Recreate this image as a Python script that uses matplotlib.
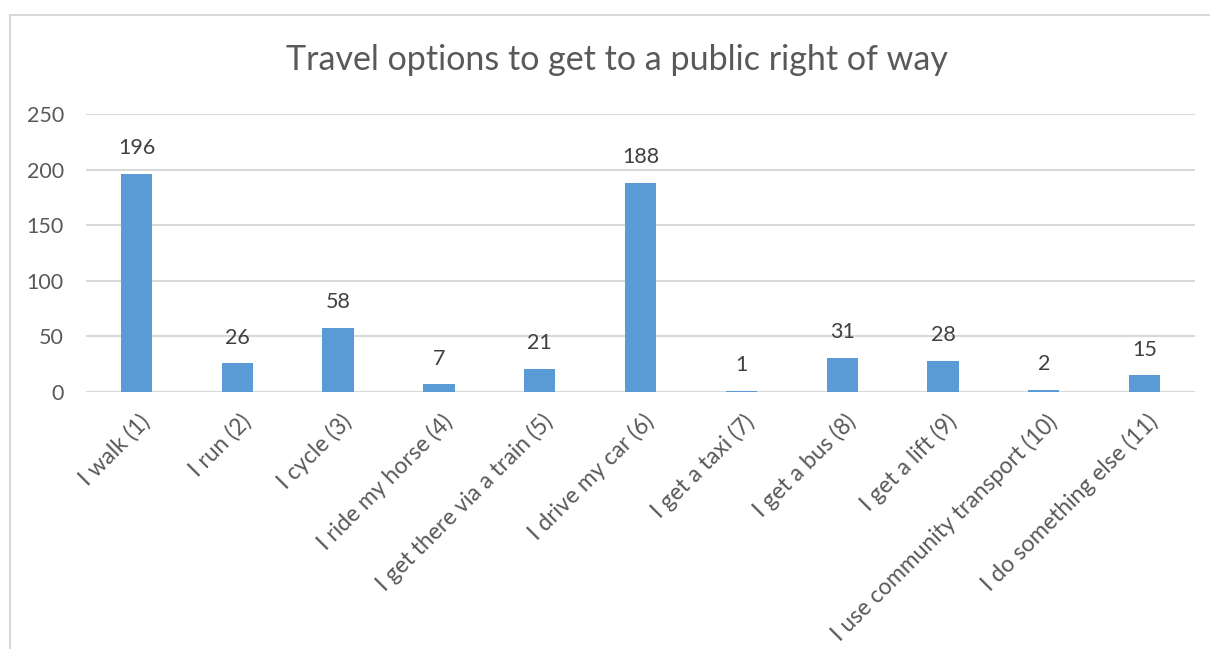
import matplotlib.pyplot as plt
from matplotlib.patches import Rectangle
from matplotlib.transforms import ScaledTranslation

# survey answers and counts
options = ["I walk (1)", "I run (2)", "I cycle (3)", "I ride my horse (4)",
           "I get there via a train (5)", "I drive my car (6)", "I get a taxi (7)",
           "I get a bus (8)", "I get a lift (9)", "I use community transport (10)",
           "I do something else (11)"]
counts = [196, 26, 58, 7, 21, 188, 1, 31, 28, 2, 15]
yticks = [0, 50, 100, 150, 200, 250]

plt.rcParams['font.family'] = ['Lato', 'DejaVu Sans']

fig = plt.figure(figsize=(12.1, 6.49), dpi=100, facecolor='white')
ax = fig.add_axes([0.0711, 0.396, 0.9165, 0.4283])

# chart frame, only left and top edges end up inside the image
fig.patches.append(Rectangle((10/1210, -0.5), 2, 1.5 - 15/649,
                             transform=fig.transFigure, fill=False,
                             edgecolor='#D9D9D9', lw=1.5))

x = range(len(options))
ax.bar(x, counts, width=0.31, color='#5B9BD5', zorder=3)
for i, v in zip(x, counts):
    ax.text(i, v + 23, str(v), ha='center', va='center', fontsize=15.5, color='#404040')

ax.set_xlim(-0.5, len(options) - 0.5)
ax.set_ylim(0, 250)
ax.set_yticks(yticks)
ax.yaxis.grid(True, color='#D9D9D9', lw=1.5, zorder=0)
ax.set_axisbelow(True)
for s in ax.spines.values():
    s.set_visible(False)
ax.tick_params(length=0, labelsize=15.5, colors='#595959')
ax.tick_params(axis='y', pad=16)
ax.set_xticks(list(x))
ax.set_xticklabels(options, rotation=45, ha='right', va='center',
                   rotation_mode='anchor', fontsize=16.5)
ax.tick_params(axis='x', pad=19)
# nudge the slanted labels a little to the right
shift = ScaledTranslation(10/100, 0, fig.dpi_scale_trans)
for lab in ax.get_xticklabels():
    lab.set_transform(lab.get_transform() + shift)

fig.text(0.51, 1 - 60/649, "Travel options to get to a public right of way",
         ha='center', va='center', fontsize=24.5, color='#595959')

fig.savefig('out.png', dpi=100)
